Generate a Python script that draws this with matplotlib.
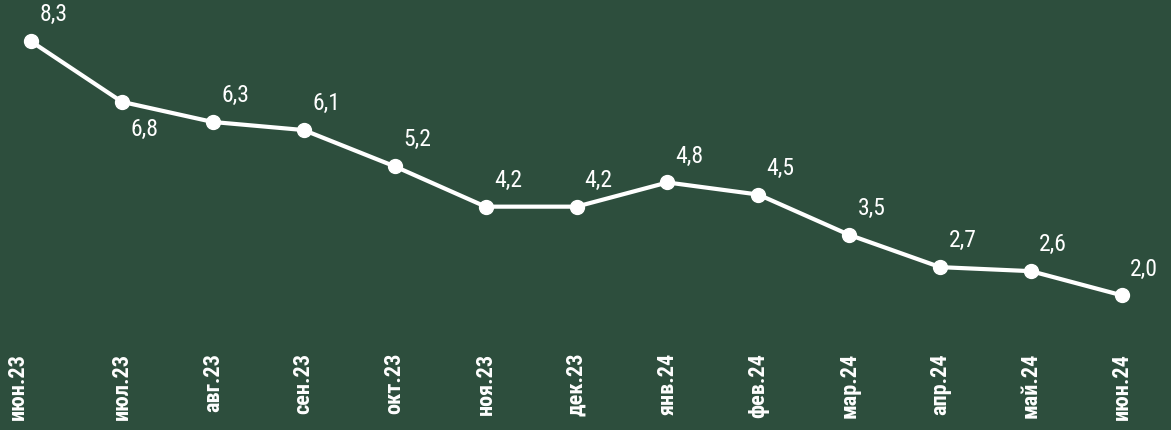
import matplotlib
matplotlib.use("Agg")
import matplotlib.pyplot as plt
from matplotlib import font_manager
from matplotlib.transforms import ScaledTranslation

months = ["июн.23", "июл.23", "авг.23", "сен.23", "окт.23", "ноя.23", "дек.23",
          "янв.24", "фев.24", "мар.24", "апр.24", "май.24", "июн.24"]
values = [8.3, 6.8, 6.3, 6.1, 5.2, 4.2, 4.2, 4.8, 4.5, 3.5, 2.7, 2.6, 2.0]
labels = ["8,3", "6,8", "6,3", "6,1", "5,2", "4,2", "4,2", "4,8", "4,5", "3,5", "2,7", "2,6", "2,0"]

names = {f.name for f in font_manager.fontManager.ttflist}
fam = [n for n in ["Roboto Condensed", "Liberation Sans Narrow", "DejaVu Sans Condensed", "DejaVu Sans"] if n in names]
plt.rcParams['font.family'] = fam + ["DejaVu Sans"]

BG = "#2d4e3d"
W, H = 1171, 430
fig = plt.figure(figsize=(W / 100, H / 100), dpi=100, facecolor=BG)
left, right = 31, 1122
top, bottom = 0, 346
ax = fig.add_axes([left / W, 1 - bottom / H, (right - left) / W, (bottom - top) / H])
ax.set_facecolor(BG)
ppu = 40.32
zero_px = 376
ax.set_xlim(0, len(months) - 1)
ax.set_ylim((zero_px - bottom) / ppu, (zero_px - top) / ppu)

x = list(range(len(months)))
ax.plot(x, values, color="white", lw=3, marker="o", ms=10, clip_on=False, zorder=3)

for i, (v, lab) in enumerate(zip(values, labels)):
    dy = -20 if i == 1 else 19
    ax.annotate(lab, (i, v), xytext=(16, dy), textcoords="offset points",
                ha="center", va="center", color="white", fontsize=17)

ax.set_xticks(x)
ax.set_xticklabels(months, rotation=90, color="white", fontsize=16, fontweight="bold", va="top")
ax.tick_params(axis="x", length=0, pad=5)
first = ax.get_xticklabels()[0]
first.set_transform(first.get_transform() + ScaledTranslation(-13 / 100, 0, fig.dpi_scale_trans))
ax.set_yticks([])
for s in ax.spines.values():
    s.set_visible(False)

fig.savefig("out.png", dpi=100, facecolor=BG)
